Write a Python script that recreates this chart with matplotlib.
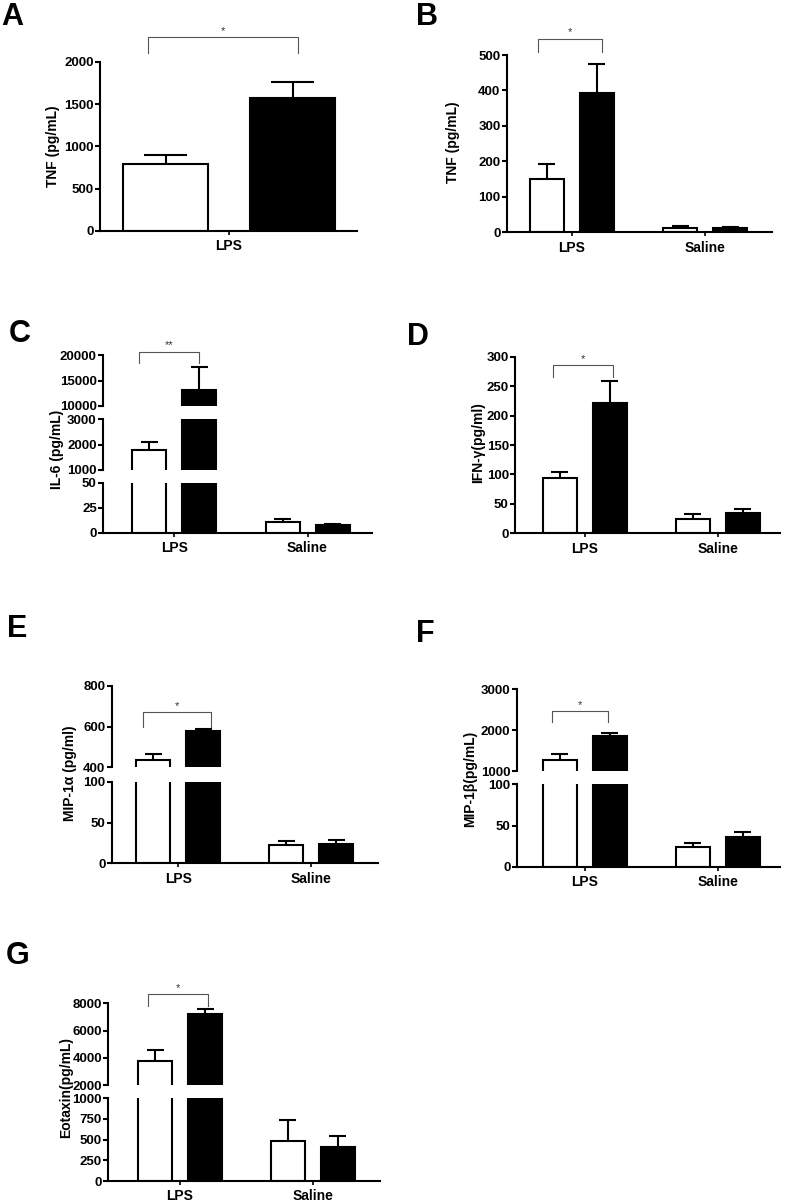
import matplotlib
matplotlib.use("Agg")
import matplotlib.pyplot as plt
import numpy as np

plt.rcParams['font.family'] = ['Liberation Sans', 'DejaVu Sans']
plt.rcParams['font.weight'] = 'bold'

# ---------------- data ----------------
groups_A = ["LPS"]
tnf_A_white = [790]
tnf_A_white_err = [115]
tnf_A_black = [1575]
tnf_A_black_err = [185]

groups = ["LPS", "Saline"]
tnf_B_white = [150, 13]
tnf_B_white_err = [42, 5]
tnf_B_black = [393, 11]
tnf_B_black_err = [83, 3]

il6_white = [1790, 10.5]
il6_white_err = [310, 3.2]
il6_black = [13200, 7.7]
il6_black_err = [4400, 0.8]

ifng_white = [94.5, 25]
ifng_white_err = [9.5, 7.5]
ifng_black = [221, 34]
ifng_black_err = [38, 6.7]

mip1a_white = [434, 22.4]
mip1a_white_err = [33, 4.9]
mip1a_black = [577, 23.6]
mip1a_black_err = [13, 4.9]

mip1b_white = [1262, 24]
mip1b_white_err = [162, 4.8]
mip1b_black = [1864, 35.6]
mip1b_black_err = [73, 6.4]

eot_white = [3790, 484]
eot_white_err = [810, 254]
eot_black = [7190, 415]
eot_black_err = [414, 129]

W, H = 787, 1201
fig = plt.figure(figsize=(W / 100, H / 100), dpi=100)


def rect(x0, x1, ytop, ybot):
    return [x0 / W, 1 - ybot / H, (x1 - x0) / W, (ybot - ytop) / H]


def draw_panel(letter, letter_xy, grp, white, white_err, black, black_err,
               xspan, center_px, unit_px, bar_w_px, off_px, segments,
               ylabel, ylabel_xy, sig, br_y, br_drop, br_d):
    x = np.arange(len(grp))
    xlim = ((xspan[0] - center_px) / unit_px, (xspan[1] - center_px) / unit_px)
    w = bar_w_px / unit_px
    off = off_px / unit_px
    axes = []
    for k, (yt, yb, lo, hi, ticks) in enumerate(segments):
        ax = fig.add_axes(rect(xspan[0], xspan[1], yt, yb))
        ax.set_xlim(*xlim)
        ax.set_ylim(lo, hi)
        ax.patch.set_alpha(0)
        for s in ['top', 'right']:
            ax.spines[s].set_visible(False)
        ax.spines['left'].set_linewidth(1.5)
        ax.bar(x - off, white, w, color='white', edgecolor='black', linewidth=1.5, zorder=2)
        ax.bar(x + off, black, w, color='black', edgecolor='black', linewidth=1.5, zorder=2)
        for xs, m, e in ((x - off, white, white_err), (x + off, black, black_err)):
            top = np.add(m, e)
            ax.vlines(xs, m, top, color='black', linewidth=1.5, zorder=3)
            ax.hlines(top, xs - w / 4, xs + w / 4, color='black', linewidth=1.5, zorder=3)
        ax.set_yticks(ticks, [str(t) for t in ticks])
        ax.tick_params(axis='y', length=3.5, width=1.5, pad=1, labelsize=9.5)
        if k == 0:
            ax.spines['bottom'].set_linewidth(1.5)
            ax.set_xticks(x, grp)
            ax.tick_params(axis='x', length=3, width=1.2, pad=3, labelsize=10)
        else:
            ax.spines['bottom'].set_visible(False)
            ax.set_xticks([])
        axes.append(ax)
    topax = axes[-1]
    xl = x[0] - off + br_d[0] / unit_px
    xr = x[0] + off + br_d[1] / unit_px
    topax.plot([xl, xl, xr, xr], [br_drop, br_y, br_y, br_drop], color='#555555',
               linewidth=0.8, clip_on=False)
    topax.annotate(sig, ((xl + xr) / 2, br_y), xytext=(0, 1), textcoords='offset points',
                   ha='center', va='bottom', fontsize=8, fontweight='normal',
                   color='#333333', annotation_clip=False)
    fig.text(ylabel_xy[0] / W, 1 - ylabel_xy[1] / H, ylabel, rotation=90,
             ha='center', va='center', fontsize=10, fontweight='bold')
    fig.text(letter_xy[0] / W, 1 - letter_xy[1] / H, letter, ha='left',
             va='baseline', fontsize=22, fontweight='bold')


# A
draw_panel("A", (1, 25), groups_A, tnf_A_white, tnf_A_white_err, tnf_A_black, tnf_A_black_err,
           (100, 357), 229, 128.5, 85, 63.5,
           [(62, 231, 0, 2000, [0, 500, 1000, 1500, 2000])],
           "TNF (pg/mL)", (53, 146), "*", 2290, 2110, (-18, 5))
# B
draw_panel("B", (416, 25), groups, tnf_B_white, tnf_B_white_err, tnf_B_black, tnf_B_black_err,
           (506.7, 771.7), 571.7, 133.3, 34, 25,
           [(55, 232.3, 0, 500, [0, 100, 200, 300, 400, 500])],
           "TNF (pg/mL)", (453, 142), "*", 546, 509, (-9, 5))
# C
draw_panel("C", (9, 342), groups, il6_white, il6_white_err, il6_black, il6_black_err,
           (103, 371.7), 174.3, 133.2, 34, 25,
           [(482.7, 532.7, 0, 50, [0, 25, 50]),
            (419.3, 470, 1000, 3000, [1000, 2000, 3000]),
            (355, 406, 10000, 20000, [10000, 15000, 20000])],
           "IL-6 (pg/mL)", (57, 449), "**", 20650, 18370, (-10, 0))
# D
draw_panel("D", (407, 345), groups, ifng_white, ifng_white_err, ifng_black, ifng_black_err,
           (515, 780), 584.7, 133, 34, 25,
           [(356.7, 533.3, 0, 300, [0, 50, 100, 150, 200, 250, 300])],
           "IFN-γ(pg/ml)", (478, 443), "*", 285.7, 266, (-7, 3))
# E
draw_panel("E", (7, 637), groups, mip1a_white, mip1a_white_err, mip1a_black, mip1a_black_err,
           (111.7, 378.3), 178.3, 133, 34, 25,
           [(781.7, 863.3, 0, 100, [0, 50, 100]),
            (686, 767.3, 400, 800, [400, 600, 800])],
           "MIP-1α (pg/ml)", (70, 773), "*", 672, 600, (-10, 8))
# F
draw_panel("F", (416, 642), groups, mip1b_white, mip1b_white_err, mip1b_black, mip1b_black_err,
           (516.7, 780), 584.7, 133.1, 34, 25,
           [(784.3, 866.7, 0, 100, [0, 50, 100]),
            (689.3, 771, 1000, 3000, [1000, 2000, 3000])],
           "MIP-1β(pg/mL)", (470, 779), "*", 2469, 2207, (-8, -2))
# G
draw_panel("G", (6, 964), groups, eot_white, eot_white_err, eot_black, eot_black_err,
           (108.3, 380), 180, 132.8, 34, 25,
           [(1098.3, 1181, 0, 1000, [0, 250, 500, 750, 1000]),
            (1003.3, 1085, 2000, 8000, [2000, 4000, 6000, 8000])],
           "Eotaxin(pg/mL)", (66, 1087), "*", 8661, 7802, (-7, 2.5))

fig.savefig("out.png", dpi=100)
